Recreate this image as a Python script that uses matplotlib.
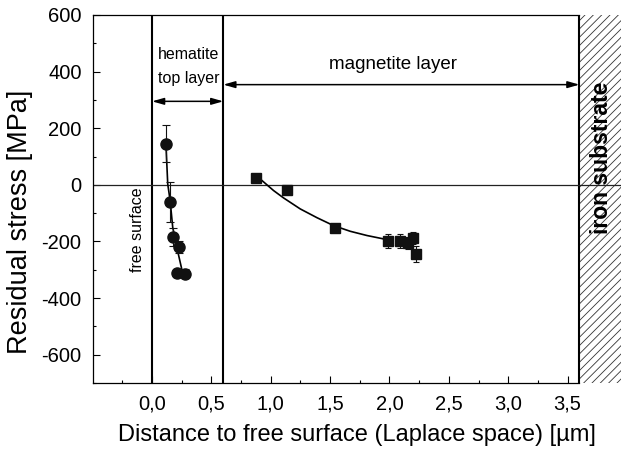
import numpy as np
import matplotlib.pyplot as plt
from matplotlib.ticker import MultipleLocator, FixedLocator, FuncFormatter

plt.rcParams['font.family'] = ['Liberation Sans', 'DejaVu Sans']
plt.rcParams['axes.unicode_minus'] = False
plt.rcParams['hatch.linewidth'] = 0.6

# hematite top layer (circles)
hem_x = [0.118, 0.152, 0.180, 0.230, 0.208, 0.278]
hem_y = [145, -61, -185, -220, -311, -314]
hem_err = [65, 70, 32, 20, 15, 15]
hem_fit_x = [0.118, 0.132, 0.152, 0.174, 0.208, 0.259]
hem_fit_y = [133, 3, -55, -150, -220, -314]

# magnetite layer (squares)
mag_x = [0.874, 1.138, 1.540, 1.984, 2.085, 2.160, 2.195, 2.223]
mag_y = [25, -18, -153, -199, -199, -206, -187, -243]
mag_err = [10, 12, 12, 25, 25, 20, 22, 28]
mag_fit_x = [0.91, 1.023, 1.107, 1.248, 1.389, 1.529, 1.669, 1.81, 1.95, 2.0]
mag_fit_y = [21, -20, -46, -85, -116, -144, -164, -179, -191, -194]

layer_edges = [0.0, 0.6, 3.6]
x_major = [0.0, 0.5, 1.0, 1.5, 2.0, 2.5, 3.0, 3.5]

fig = plt.figure(figsize=(6.21, 4.49), dpi=100)
ax = fig.add_axes([92.7 / 621, 1 - 383 / 449, 1 - 92.7 / 621, 368 / 449])
ax.set_xlim(-0.5, 3.95)
ax.set_ylim(-700, 600)

# substrate region
ax.axvspan(layer_edges[2], 3.95, facecolor='white', edgecolor='#333333',
           hatch='////', lw=0)
for xe in layer_edges:
    ax.axvline(xe, color='black', lw=1.5)
ax.axhline(0, color='#222222', lw=0.9)

ax.plot(hem_fit_x, hem_fit_y, color='black', lw=1.2)
ax.errorbar(hem_x, hem_y, yerr=hem_err, fmt='o', color='#111111', ms=8,
            ecolor='#111111', elinewidth=0.8, capsize=3, capthick=0.8)
ax.plot(mag_fit_x, mag_fit_y, color='black', lw=1.2)
ax.errorbar(mag_x, mag_y, yerr=mag_err, fmt='s', color='#111111', ms=7,
            ecolor='#111111', elinewidth=0.8, capsize=2.5, capthick=0.8)

# layer annotations
arrow = dict(arrowstyle='<|-|>,head_length=0.7,head_width=0.2',
             color='black', lw=1.1, mutation_scale=10, shrinkA=0, shrinkB=0)
ax.annotate('', xy=(layer_edges[0], 295), xytext=(layer_edges[1], 295),
            arrowprops=arrow)
ax.annotate('', xy=(layer_edges[1], 354), xytext=(layer_edges[2], 354),
            arrowprops=arrow)
ax.text(0.31, 462, 'hematite', ha='center', va='center', fontsize=11.5)
ax.text(0.31, 374, 'top layer', ha='center', va='center', fontsize=11.5)
ax.text(2.03, 424, 'magnetite layer', ha='center', va='center', fontsize=13.5)
ax.text(-0.126, -158, 'free surface', rotation=90, ha='center',
        va='center', fontsize=11.5)
ax.text(3.786, 97, 'iron substrate', rotation=90, ha='center', va='center',
        fontsize=16.5, fontweight='bold')

ax.xaxis.set_major_locator(FixedLocator(x_major))
ax.xaxis.set_minor_locator(FixedLocator(np.arange(-0.25, 3.6, 0.5)))
ax.xaxis.set_major_formatter(
    FuncFormatter(lambda v, p: f'{v:.1f}'.replace('.', ',')))
ax.yaxis.set_major_locator(MultipleLocator(200))
ax.yaxis.set_minor_locator(MultipleLocator(100))
ax.tick_params(which='both', direction='in', top=False, right=False,
               width=0.8, labelsize=14.5, pad=8)
ax.tick_params(which='major', length=5)
ax.tick_params(which='minor', length=2.5)

ax.spines['right'].set_visible(False)
ax.spines['top'].set_bounds(-0.5, 3.6)
ax.spines['bottom'].set_bounds(-0.5, 3.6)
for s in ('top', 'bottom', 'left'):
    ax.spines[s].set_linewidth(0.9)

ax.set_xlabel('Distance to free surface (Laplace space) [µm]', fontsize=17,
              labelpad=8)
ax.set_ylabel('Residual stress [MPa]', fontsize=19.5)
ax.yaxis.set_label_coords(-0.113, 0.4375)

fig.savefig('out.png', dpi=100)
